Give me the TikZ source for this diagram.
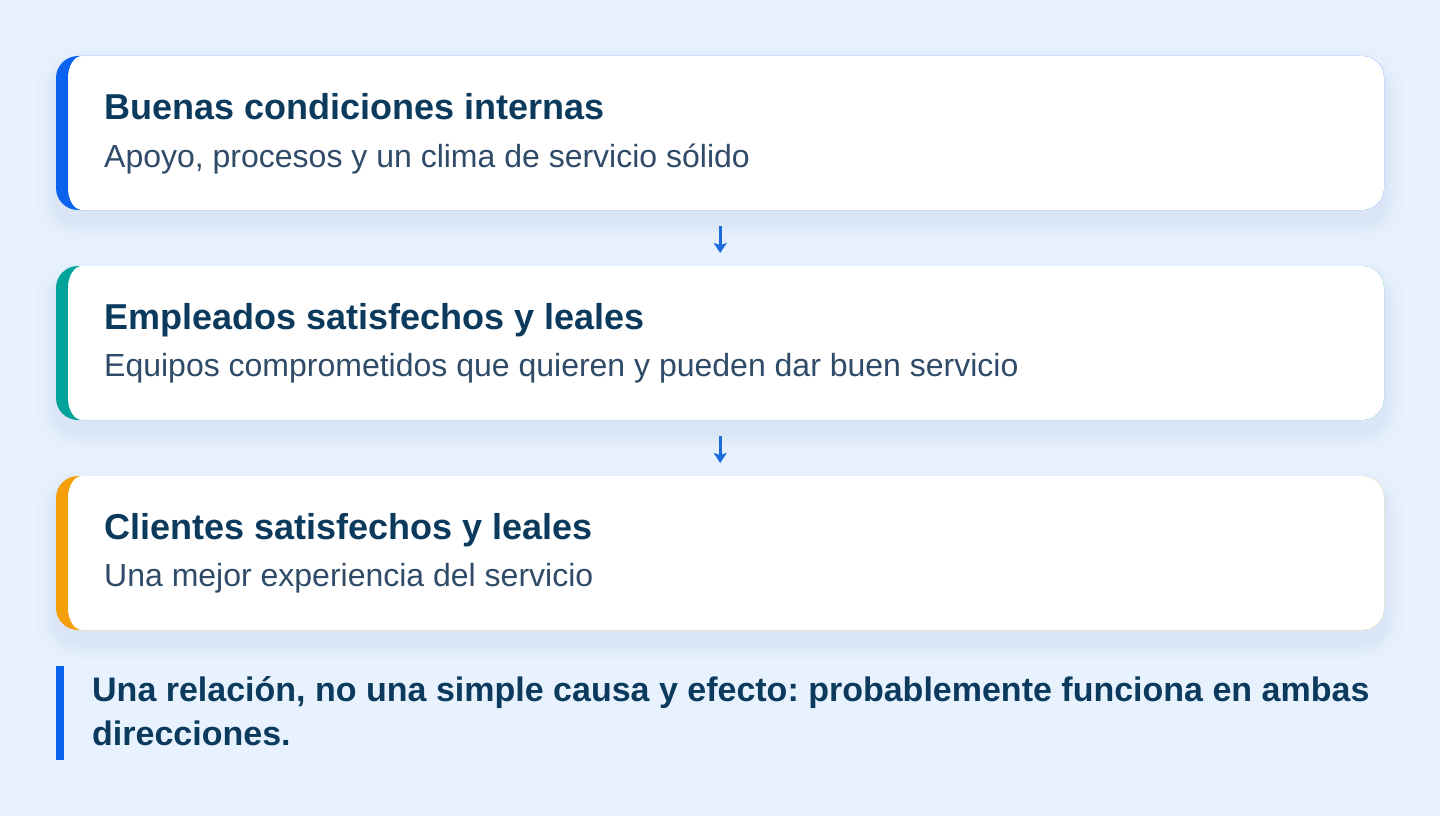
\documentclass[tikz,border=0pt]{standalone}
\usepackage{fontspec}
\setmainfont{Liberation Sans}
\frenchspacing
\usetikzlibrary{arrows.meta,calc}
\definecolor{bgc}{HTML}{E8F2FE}
\definecolor{titlec}{HTML}{0B3A5D}
\definecolor{subc}{HTML}{2F4B67}
\definecolor{blueb}{HTML}{0A63EE}
\definecolor{tealb}{HTML}{00A39A}
\definecolor{orangeb}{HTML}{F59F0A}
\definecolor{arrowc}{HTML}{1C6CDB}
\definecolor{shadowc}{HTML}{7E9CC8}
\tikzset{
  cardtitle/.style={anchor=base west,inner sep=0,text=titlec,font=\fontsize{36}{43}\selectfont\bfseries},
  cardsub/.style={anchor=base west,inner sep=0,text=subc,font=\fontsize{32}{38}\selectfont},
  quotetext/.style={anchor=base west,inner sep=0,text=titlec,font=\fontsize{34}{45}\selectfont\bfseries},
  cardbox/.style={minimum width=1328pt,minimum height=154pt,inner sep=0,anchor=north west},
  flowarrow/.style={draw=arrowc,line width=2.6pt,-{Stealth[length=10pt,width=13pt,inset=2pt]}}
}
\newcommand{\mycard}[3]{% top, bottom, colour
  \foreach \s/\o in {20/0.012,15/0.016,11/0.022,7/0.028,4/0.03}{
    \fill[shadowc,opacity=\o,rounded corners=22+\s] (56-\s,#1+12-\s) rectangle (1384+\s,#2+12+\s);
  }
  \fill[#3,rounded corners=22] (56,#1) rectangle (1384,#2);
  \fill[white] (68,#1+22) arc[start angle=180,end angle=270,x radius=14,y radius=22]
    -- (1362,#1) arc[start angle=270,end angle=360,radius=22]
    -- (1384,#2-22) arc[start angle=0,end angle=90,radius=22]
    -- (82,#2) arc[start angle=90,end angle=180,x radius=14,y radius=22] -- cycle;
}
\begin{document}
\begin{tikzpicture}[x=1pt,y=-1pt]
\fill[bgc] (0,0) rectangle (1440,816);
\useasboundingbox (0,0) rectangle (1440,816);

\mycard{56}{210}{blueb}
\mycard{266}{420}{tealb}
\mycard{476}{630}{orangeb}

\node[cardbox] (c1) at (56,56) {};
\node[cardbox] (c2) at (56,266) {};
\node[cardbox] (c3) at (56,476) {};

\node[cardtitle] (t1) at (104,119) {Buenas condiciones internas};
\node[cardsub] (s1) at (104,167) {Apoyo, procesos y un clima de servicio sólido};
\node[cardtitle] (t2) at (104,329) {Empleados satisfechos y leales};
\node[cardsub] (s2) at (104,376) {Equipos comprometidos que quieren y pueden dar buen servicio};
\node[cardtitle] (t3) at (104,539) {Clientes satisfechos y leales};
\node[cardsub] (s3) at (104,586) {Una mejor experiencia del servicio};

\draw[flowarrow] ([yshift=-16pt]c1.south) -- ([yshift=13pt]c2.north);
\draw[flowarrow] ([yshift=-16pt]c2.south) -- ([yshift=13pt]c3.north);

\fill[blueb] (56,666) rectangle (64,760);
\node[quotetext] (q1) at (92,701) {Una relación, no una simple causa y efecto: probablemente funciona en ambas};
\node[quotetext] (q2) at (92,745) {direcciones.};
\end{tikzpicture}
\end{document}
